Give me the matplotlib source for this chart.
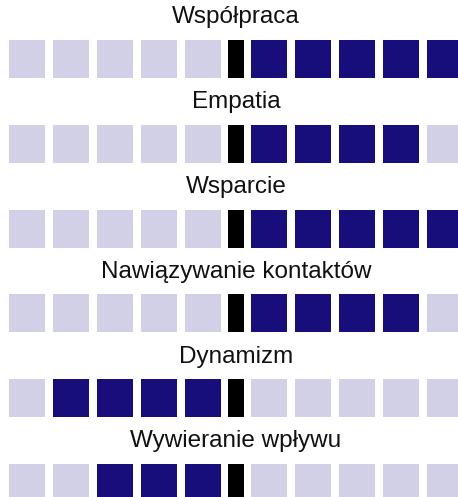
import matplotlib
matplotlib.use("Agg")
import matplotlib.pyplot as plt
import numpy as np

# scale labels and their scores (-5..5, sign = side of the centre bar)
labels = ["Współpraca", "Empatia", "Wsparcie", "Nawiązywanie kontaktów",
          "Dynamizm", "Wywieranie wpływu"]
scores = [5, 4, 5, 4, -4, -3]

LIGHT = "#d1d0e6"
DARK = "#170e7b"

plt.rcParams["font.family"] = ["Liberation Sans", "DejaVu Sans"]

fig = plt.figure(figsize=(4.58, 4.97), dpi=100)
ax = fig.add_axes([0, 0, 1, 1])
ax.set_xlim(-5.364, 5.045)
ax.set_ylim(5.165, -0.696)
ax.axis("off")

steps = np.arange(1, 6)
sq_w, sq_h = 0.84, 0.448
for row, (lab, s) in enumerate(zip(labels, scores)):
    for side in (-1, 1):
        xs = side * (steps - 0.25)
        filled = (np.sign(s) == side) & (steps <= abs(s))
        cols = [DARK if f else LIGHT for f in filled]
        ax.bar(xs, sq_h, width=sq_w, bottom=row - sq_h / 2, color=cols,
               linewidth=0)
    ax.bar(0, sq_h, width=0.36, bottom=row - sq_h / 2, color="black",
           linewidth=0)
    ax.text(0, row - 0.42, lab, ha="center", va="baseline",
            fontsize=17.5, color="#111111")

fig.savefig("out.png", dpi=100)
